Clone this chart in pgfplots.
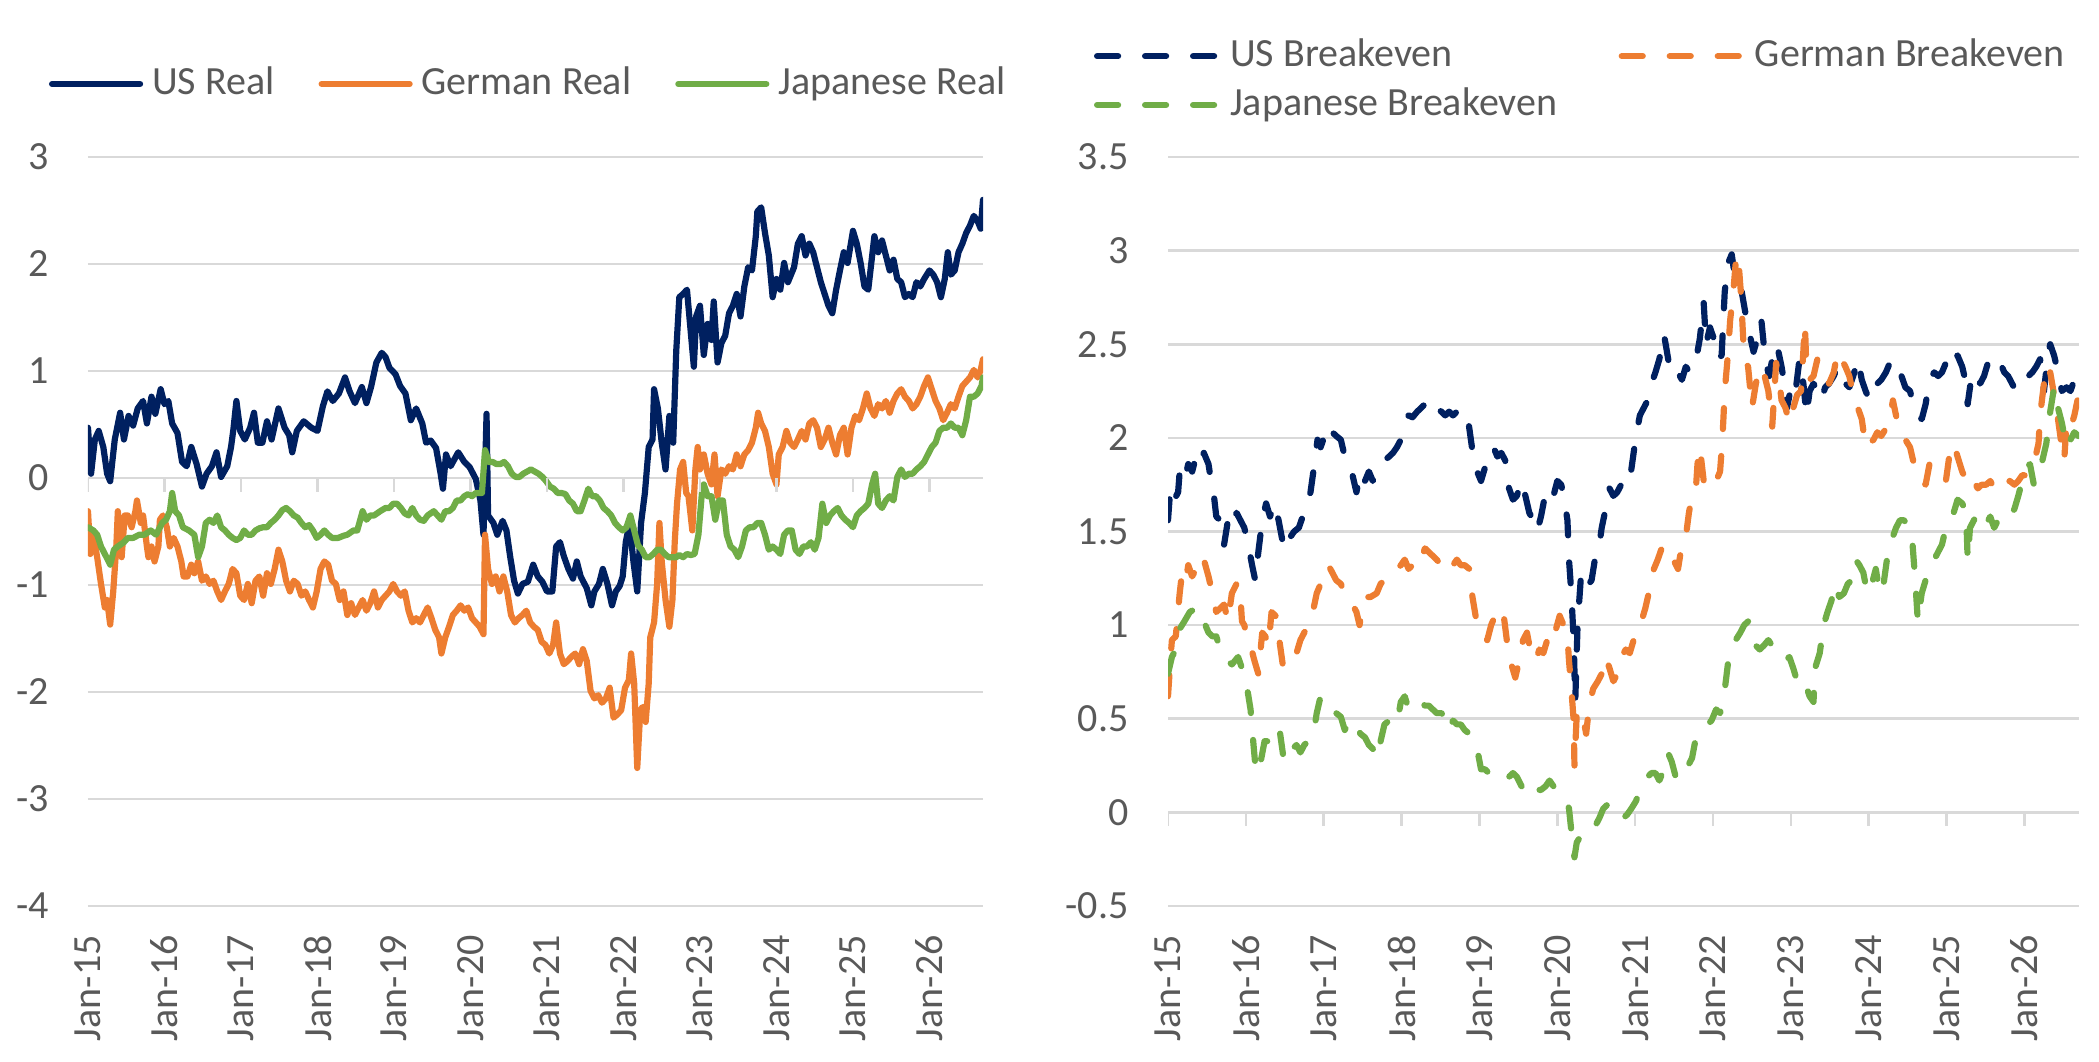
\documentclass[border=0pt]{standalone}
\usepackage{fontspec}
\setmainfont{Carlito}
\usepackage{pgfplots}
\pgfplotsset{compat=1.18}
\definecolor{usnavy}{HTML}{002060}
\definecolor{deorange}{HTML}{ED7D31}
\definecolor{jpgreen}{HTML}{70AD47}
\definecolor{gridgray}{HTML}{D9D9D9}
\definecolor{textgray}{HTML}{595959}
\pgfplotsset{
  chartbase/.style={
    scale only axis,
    anchor=south west,
    axis line style={draw=none},
    tick style={draw=none},
    ymajorgrids,
    grid style={gridgray, line width=1.3pt},
    xmin=2015, xmax=2026.70,
    xtick={2015,2016,2017,2018,2019,2020,2021,2022,2023,2024,2025,2026},
    xticklabels={Jan-15,Jan-16,Jan-17,Jan-18,Jan-19,Jan-20,Jan-21,Jan-22,Jan-23,Jan-24,Jan-25,Jan-26},
    xticklabel style={rotate=90, anchor=east, inner sep=0pt},
    yticklabel style={anchor=east, inner sep=0pt},
    xticklabel shift=14.5pt,
    yticklabel shift=19.5pt,
    tick label style={font=\fontsize{20}{24}\selectfont, text=textgray},
    legend cell align=left,
  },
  realline/.style={line width=3.1pt, line join=round, line cap=round},
  beline/.style={line width=3.1pt, line join=round, line cap=round, dash pattern=on 10.5pt off 13.5pt},
}
\begin{document}
\fontsize{20}{24}\selectfont
\begin{tikzpicture}
\path[use as bounding box] (0,0) rectangle (1049.5pt,530.5pt);
\begin{axis}[chartbase,
  at={(44pt,77.5pt)}, width=447.5pt, height=374.5pt,
  ymin=-4, ymax=3,
  ytick={-4,-3,-2,-1,0,1,2,3}, yticklabels={-4,-3,-2,-1,0,1,2,3},
  legend columns=3,
  legend style={at={(axis description cs:-0.04358,1.0975)}, anchor=west,
    draw=none, fill=none, inner sep=0pt, outer sep=0pt,
    font=\fontsize{20}{24}\selectfont, text=textgray, nodes={inner sep=0pt},
    /tikz/every odd column/.append style={column sep=4.5pt},
    /tikz/every even column/.append style={column sep=22pt}},
  legend image code/.code={\draw[#1] (0pt,0pt) -- (44pt,0pt);},
]
\addplot[realline, usnavy] coordinates {
(2015.00,0.47)(2015.04,0.04)(2015.09,0.36)(2015.14,0.44)(2015.20,0.29)(2015.25,0.04)(2015.29,-0.03)(2015.35,0.36)(2015.42,0.61)(2015.47,0.36)(2015.53,0.58)(2015.59,0.49)(2015.65,0.65)(2015.72,0.72)(2015.77,0.51)(2015.83,0.76)(2015.88,0.60)(2015.95,0.83)(2016.00,0.69)(2016.05,0.72)(2016.10,0.51)(2016.17,0.42)(2016.23,0.15)(2016.29,0.11)(2016.35,0.29)(2016.42,0.13)(2016.49,-0.08)(2016.55,0.04)(2016.62,0.11)(2016.68,0.24)(2016.74,0.01)(2016.82,0.11)(2016.87,0.29)(2016.90,0.45)(2016.94,0.72)(2016.99,0.44)(2017.05,0.36)(2017.12,0.47)(2017.17,0.61)(2017.22,0.33)(2017.28,0.33)(2017.34,0.53)(2017.40,0.36)(2017.49,0.65)(2017.57,0.47)(2017.63,0.40)(2017.67,0.24)(2017.73,0.44)(2017.82,0.53)(2017.92,0.47)(2018.00,0.44)(2018.07,0.67)(2018.13,0.81)(2018.20,0.72)(2018.28,0.79)(2018.36,0.94)(2018.42,0.81)(2018.49,0.70)(2018.58,0.85)(2018.64,0.70)(2018.70,0.85)(2018.77,1.08)(2018.84,1.17)(2018.89,1.13)(2018.94,1.03)(2019.02,0.97)(2019.08,0.86)(2019.15,0.79)(2019.22,0.54)(2019.29,0.65)(2019.37,0.51)(2019.42,0.33)(2019.48,0.35)(2019.55,0.28)(2019.61,0.04)(2019.64,-0.10)(2019.68,0.22)(2019.74,0.11)(2019.84,0.24)(2019.92,0.15)(2019.99,0.10)(2020.07,-0.01)(2020.13,-0.21)(2020.17,-0.53)(2020.21,0.60)(2020.23,-0.35)(2020.30,-0.42)(2020.35,-0.53)(2020.42,-0.40)(2020.47,-0.49)(2020.52,-0.74)(2020.57,-0.96)(2020.62,-1.08)(2020.68,-0.99)(2020.75,-0.97)(2020.82,-0.81)(2020.88,-0.92)(2020.94,-0.97)(2021.00,-1.06)(2021.07,-1.06)(2021.12,-0.64)(2021.17,-0.60)(2021.22,-0.73)(2021.28,-0.85)(2021.34,-0.94)(2021.39,-0.78)(2021.44,-0.92)(2021.52,-1.03)(2021.58,-1.19)(2021.62,-1.06)(2021.68,-0.99)(2021.73,-0.85)(2021.79,-0.99)(2021.85,-1.19)(2021.90,-1.06)(2021.95,-1.01)(2021.99,-0.92)(2022.03,-0.60)(2022.08,-0.42)(2022.13,-0.78)(2022.18,-1.06)(2022.23,-0.42)(2022.28,-0.14)(2022.33,0.29)(2022.38,0.36)(2022.40,0.83)(2022.45,0.65)(2022.50,0.33)(2022.55,0.08)(2022.60,0.58)(2022.65,0.33)(2022.69,1.19)(2022.73,1.69)(2022.78,1.72)(2022.83,1.76)(2022.88,1.36)(2022.92,1.04)(2022.95,1.51)(2023.00,1.61)(2023.05,1.15)(2023.10,1.44)(2023.15,1.29)(2023.18,1.65)(2023.23,1.08)(2023.28,1.26)(2023.33,1.33)(2023.38,1.54)(2023.43,1.61)(2023.48,1.72)(2023.53,1.51)(2023.58,1.79)(2023.63,1.97)(2023.68,1.94)(2023.73,2.26)(2023.75,2.49)(2023.80,2.53)(2023.85,2.29)(2023.90,2.08)(2023.95,1.69)(2024.00,1.86)(2024.05,1.76)(2024.10,2.01)(2024.15,1.83)(2024.23,1.97)(2024.28,2.19)(2024.33,2.26)(2024.38,2.08)(2024.43,2.19)(2024.48,2.11)(2024.53,1.97)(2024.58,1.83)(2024.63,1.72)(2024.68,1.61)(2024.73,1.54)(2024.78,1.76)(2024.83,1.94)(2024.88,2.11)(2024.93,2.01)(2025.00,2.31)(2025.05,2.19)(2025.10,2.01)(2025.15,1.79)(2025.20,1.76)(2025.28,2.26)(2025.33,2.11)(2025.38,2.22)(2025.43,2.08)(2025.48,1.94)(2025.53,2.04)(2025.58,1.86)(2025.63,1.83)(2025.68,1.69)(2025.73,1.72)(2025.78,1.69)(2025.83,1.83)(2025.88,1.79)(2025.93,1.86)(2026.00,1.94)(2026.05,1.90)(2026.10,1.83)(2026.15,1.69)(2026.20,1.86)(2026.24,2.11)(2026.28,1.90)(2026.33,1.94)(2026.38,2.11)(2026.43,2.19)(2026.48,2.29)(2026.53,2.36)(2026.58,2.45)(2026.63,2.40)(2026.67,2.33)(2026.69,2.51)(2026.70,2.60)
};
\addlegendentry{US Real}
\addplot[realline, deorange] coordinates {
(2015.00,-0.31)(2015.03,-0.71)(2015.07,-0.53)(2015.12,-0.74)(2015.17,-0.99)(2015.22,-1.21)(2015.25,-1.14)(2015.29,-1.37)(2015.33,-1.06)(2015.37,-0.64)(2015.39,-0.31)(2015.44,-0.74)(2015.48,-0.35)(2015.52,-0.35)(2015.57,-0.46)(2015.62,-0.31)(2015.64,-0.21)(2015.69,-0.42)(2015.72,-0.35)(2015.77,-0.64)(2015.79,-0.74)(2015.83,-0.64)(2015.87,-0.78)(2015.92,-0.64)(2015.94,-0.39)(2015.98,-0.35)(2016.03,-0.46)(2016.07,-0.64)(2016.12,-0.56)(2016.17,-0.64)(2016.22,-0.78)(2016.25,-0.92)(2016.30,-0.92)(2016.35,-0.81)(2016.39,-0.89)(2016.44,-0.78)(2016.49,-0.96)(2016.54,-0.92)(2016.59,-0.99)(2016.64,-0.96)(2016.69,-1.06)(2016.74,-1.14)(2016.79,-1.06)(2016.84,-0.99)(2016.89,-0.85)(2016.94,-0.89)(2016.99,-1.10)(2017.04,-1.14)(2017.09,-0.99)(2017.14,-1.17)(2017.19,-0.96)(2017.24,-0.92)(2017.29,-1.10)(2017.34,-0.89)(2017.39,-0.99)(2017.44,-0.85)(2017.49,-0.67)(2017.54,-0.78)(2017.59,-0.96)(2017.64,-1.06)(2017.69,-0.96)(2017.74,-0.99)(2017.79,-1.10)(2017.84,-1.06)(2017.89,-1.14)(2017.94,-1.21)(2017.99,-1.06)(2018.04,-0.85)(2018.09,-0.78)(2018.14,-0.81)(2018.19,-0.96)(2018.24,-0.99)(2018.29,-1.14)(2018.34,-1.06)(2018.39,-1.28)(2018.44,-1.17)(2018.49,-1.28)(2018.54,-1.21)(2018.59,-1.14)(2018.64,-1.24)(2018.69,-1.17)(2018.74,-1.06)(2018.79,-1.21)(2018.84,-1.14)(2018.89,-1.10)(2018.94,-1.06)(2018.99,-0.99)(2019.04,-1.06)(2019.09,-1.10)(2019.14,-1.06)(2019.19,-1.24)(2019.24,-1.35)(2019.29,-1.31)(2019.34,-1.35)(2019.39,-1.28)(2019.44,-1.21)(2019.49,-1.31)(2019.54,-1.42)(2019.59,-1.49)(2019.62,-1.64)(2019.67,-1.49)(2019.72,-1.39)(2019.77,-1.28)(2019.82,-1.24)(2019.87,-1.19)(2019.92,-1.24)(2019.97,-1.21)(2020.02,-1.31)(2020.07,-1.35)(2020.12,-1.39)(2020.17,-1.46)(2020.19,-0.53)(2020.23,-0.85)(2020.28,-0.99)(2020.33,-0.92)(2020.38,-1.06)(2020.43,-0.92)(2020.48,-1.06)(2020.53,-1.28)(2020.58,-1.35)(2020.63,-1.31)(2020.68,-1.28)(2020.73,-1.24)(2020.78,-1.35)(2020.83,-1.39)(2020.88,-1.42)(2020.93,-1.53)(2020.98,-1.56)(2021.03,-1.64)(2021.08,-1.56)(2021.12,-1.35)(2021.17,-1.64)(2021.22,-1.74)(2021.27,-1.71)(2021.32,-1.67)(2021.37,-1.64)(2021.42,-1.74)(2021.47,-1.60)(2021.52,-1.71)(2021.57,-1.99)(2021.62,-2.06)(2021.67,-2.03)(2021.72,-2.10)(2021.77,-2.06)(2021.82,-1.96)(2021.87,-2.24)(2021.92,-2.21)(2021.97,-2.17)(2022.02,-1.96)(2022.07,-1.89)(2022.10,-1.64)(2022.14,-1.92)(2022.18,-2.71)(2022.22,-2.17)(2022.25,-2.14)(2022.29,-2.28)(2022.33,-1.92)(2022.35,-1.49)(2022.40,-1.35)(2022.44,-0.99)(2022.47,-0.42)(2022.50,-0.78)(2022.55,-1.14)(2022.60,-1.39)(2022.64,-1.14)(2022.67,-0.60)(2022.70,-0.24)(2022.74,0.08)(2022.78,0.15)(2022.82,-0.14)(2022.85,-0.17)(2022.90,-0.49)(2022.94,0.08)(2022.97,0.29)(2023.00,0.08)(2023.05,0.22)(2023.10,0.04)(2023.15,-0.06)(2023.19,0.22)(2023.23,-0.17)(2023.28,0.08)(2023.33,0.04)(2023.38,0.11)(2023.43,0.08)(2023.48,0.22)(2023.53,0.11)(2023.58,0.22)(2023.63,0.26)(2023.68,0.33)(2023.73,0.47)(2023.76,0.61)(2023.80,0.51)(2023.85,0.44)(2023.90,0.29)(2023.95,0.04)(2024.00,-0.06)(2024.03,0.22)(2024.08,0.29)(2024.13,0.44)(2024.18,0.33)(2024.23,0.29)(2024.28,0.36)(2024.33,0.44)(2024.38,0.36)(2024.43,0.51)(2024.48,0.54)(2024.53,0.47)(2024.58,0.29)(2024.63,0.36)(2024.68,0.47)(2024.73,0.33)(2024.78,0.22)(2024.83,0.40)(2024.88,0.47)(2024.93,0.22)(2024.98,0.47)(2025.03,0.58)(2025.08,0.54)(2025.13,0.65)(2025.18,0.79)(2025.23,0.65)(2025.28,0.58)(2025.33,0.69)(2025.38,0.65)(2025.43,0.72)(2025.48,0.61)(2025.53,0.72)(2025.58,0.79)(2025.63,0.83)(2025.68,0.76)(2025.73,0.72)(2025.78,0.65)(2025.83,0.69)(2025.88,0.76)(2025.93,0.86)(2025.98,0.94)(2026.03,0.83)(2026.08,0.72)(2026.13,0.65)(2026.18,0.54)(2026.23,0.61)(2026.28,0.69)(2026.33,0.65)(2026.38,0.76)(2026.43,0.86)(2026.48,0.90)(2026.53,0.94)(2026.58,1.01)(2026.63,0.94)(2026.67,1.01)(2026.70,1.11)
};
\addlegendentry{German Real}
\addplot[realline, jpgreen] coordinates {
(2015.00,-0.46)(2015.07,-0.49)(2015.12,-0.53)(2015.17,-0.64)(2015.22,-0.71)(2015.29,-0.81)(2015.34,-0.67)(2015.39,-0.64)(2015.47,-0.60)(2015.52,-0.56)(2015.59,-0.56)(2015.67,-0.53)(2015.74,-0.53)(2015.82,-0.49)(2015.89,-0.53)(2015.97,-0.42)(2016.02,-0.39)(2016.07,-0.31)(2016.10,-0.14)(2016.14,-0.31)(2016.19,-0.35)(2016.24,-0.46)(2016.32,-0.49)(2016.39,-0.53)(2016.44,-0.74)(2016.49,-0.64)(2016.54,-0.42)(2016.59,-0.39)(2016.64,-0.42)(2016.69,-0.35)(2016.74,-0.46)(2016.79,-0.49)(2016.84,-0.53)(2016.89,-0.56)(2016.94,-0.58)(2016.99,-0.56)(2017.04,-0.49)(2017.09,-0.53)(2017.14,-0.53)(2017.19,-0.49)(2017.24,-0.47)(2017.29,-0.46)(2017.34,-0.46)(2017.39,-0.42)(2017.44,-0.39)(2017.49,-0.35)(2017.54,-0.30)(2017.59,-0.28)(2017.64,-0.31)(2017.69,-0.35)(2017.74,-0.37)(2017.79,-0.42)(2017.84,-0.46)(2017.89,-0.44)(2017.94,-0.49)(2017.99,-0.56)(2018.04,-0.53)(2018.09,-0.49)(2018.14,-0.53)(2018.19,-0.56)(2018.27,-0.56)(2018.34,-0.54)(2018.39,-0.53)(2018.47,-0.49)(2018.52,-0.49)(2018.59,-0.31)(2018.64,-0.39)(2018.69,-0.35)(2018.74,-0.35)(2018.82,-0.31)(2018.89,-0.28)(2018.94,-0.28)(2018.99,-0.24)(2019.04,-0.24)(2019.09,-0.28)(2019.14,-0.33)(2019.19,-0.35)(2019.24,-0.28)(2019.29,-0.35)(2019.34,-0.39)(2019.39,-0.40)(2019.44,-0.35)(2019.52,-0.31)(2019.57,-0.35)(2019.62,-0.39)(2019.67,-0.31)(2019.72,-0.31)(2019.77,-0.28)(2019.82,-0.21)(2019.87,-0.21)(2019.92,-0.17)(2019.97,-0.15)(2020.02,-0.17)(2020.07,-0.14)(2020.12,-0.14)(2020.15,-0.14)(2020.19,0.26)(2020.24,0.15)(2020.29,0.15)(2020.34,0.13)(2020.39,0.13)(2020.44,0.15)(2020.49,0.11)(2020.54,0.04)(2020.59,0.01)(2020.64,0.01)(2020.69,0.04)(2020.74,0.06)(2020.79,0.08)(2020.84,0.06)(2020.89,0.04)(2020.94,0.01)(2020.99,-0.03)(2021.04,-0.08)(2021.09,-0.10)(2021.14,-0.14)(2021.19,-0.14)(2021.24,-0.15)(2021.29,-0.21)(2021.34,-0.24)(2021.39,-0.31)(2021.44,-0.31)(2021.49,-0.21)(2021.54,-0.10)(2021.59,-0.17)(2021.64,-0.17)(2021.69,-0.21)(2021.74,-0.28)(2021.79,-0.31)(2021.84,-0.35)(2021.89,-0.42)(2021.94,-0.46)(2021.99,-0.49)(2022.04,-0.46)(2022.09,-0.35)(2022.14,-0.49)(2022.19,-0.63)(2022.24,-0.67)(2022.29,-0.74)(2022.34,-0.74)(2022.39,-0.71)(2022.44,-0.67)(2022.49,-0.67)(2022.54,-0.71)(2022.59,-0.74)(2022.64,-0.74)(2022.69,-0.74)(2022.73,-0.72)(2022.78,-0.74)(2022.83,-0.71)(2022.88,-0.72)(2022.93,-0.71)(2022.98,-0.53)(2023.03,-0.10)(2023.05,-0.06)(2023.10,-0.17)(2023.15,-0.17)(2023.20,-0.39)(2023.25,-0.21)(2023.30,-0.21)(2023.35,-0.53)(2023.40,-0.64)(2023.45,-0.67)(2023.50,-0.74)(2023.55,-0.64)(2023.60,-0.49)(2023.65,-0.46)(2023.70,-0.46)(2023.75,-0.42)(2023.80,-0.42)(2023.85,-0.53)(2023.90,-0.67)(2023.95,-0.64)(2024.00,-0.67)(2024.05,-0.71)(2024.10,-0.53)(2024.15,-0.49)(2024.20,-0.49)(2024.25,-0.67)(2024.30,-0.71)(2024.35,-0.64)(2024.40,-0.64)(2024.45,-0.60)(2024.50,-0.67)(2024.55,-0.56)(2024.60,-0.24)(2024.65,-0.42)(2024.70,-0.35)(2024.75,-0.31)(2024.80,-0.28)(2024.85,-0.35)(2024.90,-0.39)(2024.95,-0.42)(2025.00,-0.46)(2025.05,-0.35)(2025.10,-0.31)(2025.15,-0.28)(2025.20,-0.24)(2025.25,-0.06)(2025.29,0.04)(2025.33,-0.24)(2025.38,-0.28)(2025.43,-0.21)(2025.48,-0.17)(2025.53,-0.21)(2025.58,0.01)(2025.63,0.08)(2025.68,0.01)(2025.73,0.04)(2025.78,0.04)(2025.83,0.08)(2025.88,0.11)(2025.93,0.15)(2025.98,0.22)(2026.03,0.29)(2026.08,0.33)(2026.13,0.44)(2026.18,0.47)(2026.23,0.47)(2026.28,0.51)(2026.33,0.47)(2026.38,0.47)(2026.43,0.40)(2026.48,0.54)(2026.53,0.76)(2026.58,0.76)(2026.63,0.79)(2026.68,0.86)(2026.70,0.94)
};
\addlegendentry{Japanese Real}
\pgfplotsinvokeforeach{2015,2016,2017,2018,2019,2020,2021,2022,2023,2024,2025,2026}{
  \draw[gridgray, line width=1.3pt] (axis cs:#1,0) -- ([yshift=-7pt]axis cs:#1,0);
}
\end{axis}
\begin{axis}[chartbase,
  at={(584pt,77.5pt)}, width=455.5pt, height=374.5pt,
  ymin=-0.5, ymax=3.5,
  ytick={-0.5,0,0.5,1,1.5,2,2.5,3,3.5}, yticklabels={-0.5,0,0.5,1,1.5,2,2.5,3,3.5},
  legend columns=2,
  legend style={at={(axis description cs:-0.08123,1.10214)}, anchor=west,
    draw=none, fill=none, inner sep=0pt, outer sep=0pt, row sep=7.5pt,
    font=\fontsize{20}{24}\selectfont, text=textgray, nodes={inner sep=0pt},
    /tikz/every odd column/.append style={column sep=6.5pt},
    /tikz/every even column/.append style={column sep=30.7pt}},
  legend image code/.code={\draw[#1] (0pt,0pt) -- (58.5pt,0pt);},
]
\addplot[beline, usnavy] coordinates {
(2015.00,1.56)(2015.03,1.73)(2015.08,1.67)(2015.13,1.71)(2015.15,1.82)(2015.21,1.77)(2015.26,1.86)(2015.31,1.82)(2015.36,1.90)(2015.41,1.86)(2015.46,1.92)(2015.52,1.86)(2015.56,1.75)(2015.59,1.69)(2015.62,1.58)(2015.67,1.56)(2015.72,1.43)(2015.77,1.56)(2015.82,1.52)(2015.88,1.60)(2015.93,1.56)(2015.98,1.52)(2016.03,1.43)(2016.08,1.32)(2016.12,1.24)(2016.16,1.39)(2016.21,1.56)(2016.26,1.65)(2016.31,1.58)(2016.37,1.65)(2016.42,1.56)(2016.47,1.45)(2016.52,1.52)(2016.57,1.47)(2016.62,1.50)(2016.68,1.52)(2016.73,1.58)(2016.78,1.65)(2016.83,1.71)(2016.88,1.86)(2016.92,1.99)(2016.96,1.95)(2017.01,2.01)(2017.06,2.07)(2017.11,2.03)(2017.16,2.01)(2017.22,1.99)(2017.27,1.90)(2017.32,1.86)(2017.37,1.80)(2017.42,1.71)(2017.47,1.82)(2017.53,1.77)(2017.58,1.82)(2017.63,1.77)(2017.68,1.82)(2017.73,1.86)(2017.78,1.88)(2017.84,1.90)(2017.89,1.92)(2017.94,1.95)(2017.99,1.99)(2018.04,2.07)(2018.09,2.12)(2018.14,2.11)(2018.20,2.14)(2018.25,2.16)(2018.30,2.18)(2018.35,2.19)(2018.40,2.14)(2018.45,2.16)(2018.51,2.14)(2018.56,2.12)(2018.61,2.14)(2018.66,2.12)(2018.71,2.14)(2018.76,2.16)(2018.81,2.12)(2018.86,2.08)(2018.89,1.99)(2018.92,1.90)(2018.97,1.82)(2019.02,1.77)(2019.07,1.84)(2019.12,1.88)(2019.18,1.95)(2019.23,1.90)(2019.28,1.92)(2019.33,1.88)(2019.38,1.73)(2019.43,1.67)(2019.48,1.69)(2019.54,1.77)(2019.59,1.69)(2019.64,1.60)(2019.69,1.56)(2019.74,1.50)(2019.79,1.58)(2019.85,1.71)(2019.90,1.73)(2019.95,1.69)(2020.00,1.77)(2020.05,1.75)(2020.09,1.67)(2020.13,1.56)(2020.15,1.35)(2020.18,1.17)(2020.21,0.92)(2020.23,0.59)(2020.26,1.00)(2020.30,1.24)(2020.34,1.17)(2020.39,1.21)(2020.44,1.24)(2020.49,1.37)(2020.54,1.43)(2020.57,1.52)(2020.62,1.62)(2020.67,1.73)(2020.72,1.69)(2020.77,1.71)(2020.82,1.75)(2020.88,1.73)(2020.93,1.77)(2020.97,1.89)(2021.01,2.01)(2021.06,2.12)(2021.11,2.16)(2021.16,2.20)(2021.21,2.29)(2021.26,2.35)(2021.31,2.42)(2021.37,2.55)(2021.40,2.48)(2021.44,2.38)(2021.49,2.33)(2021.55,2.35)(2021.60,2.31)(2021.65,2.38)(2021.70,2.35)(2021.75,2.40)(2021.80,2.46)(2021.83,2.53)(2021.88,2.72)(2021.91,2.50)(2021.96,2.59)(2022.01,2.53)(2022.06,2.42)(2022.11,2.44)(2022.15,2.78)(2022.19,2.93)(2022.24,2.98)(2022.27,2.89)(2022.32,2.80)(2022.36,2.80)(2022.41,2.68)(2022.46,2.57)(2022.52,2.46)(2022.57,2.53)(2022.62,2.63)(2022.67,2.42)(2022.72,2.33)(2022.77,2.44)(2022.82,2.50)(2022.88,2.38)(2022.93,2.25)(2022.95,2.16)(2023.01,2.29)(2023.06,2.25)(2023.11,2.42)(2023.16,2.29)(2023.20,2.12)(2023.24,2.25)(2023.29,2.29)(2023.34,2.25)(2023.39,2.20)(2023.44,2.27)(2023.49,2.29)(2023.55,2.33)(2023.60,2.38)(2023.65,2.35)(2023.70,2.29)(2023.75,2.27)(2023.80,2.33)(2023.86,2.42)(2023.91,2.31)(2023.96,2.25)(2024.01,2.20)(2024.06,2.27)(2024.11,2.29)(2024.16,2.31)(2024.22,2.35)(2024.27,2.40)(2024.32,2.42)(2024.37,2.38)(2024.42,2.33)(2024.47,2.27)(2024.53,2.25)(2024.58,2.16)(2024.63,2.12)(2024.68,2.10)(2024.73,2.18)(2024.78,2.31)(2024.84,2.35)(2024.89,2.33)(2024.94,2.35)(2024.99,2.40)(2025.04,2.46)(2025.09,2.42)(2025.14,2.44)(2025.20,2.38)(2025.25,2.29)(2025.27,2.18)(2025.32,2.33)(2025.38,2.35)(2025.43,2.29)(2025.48,2.33)(2025.53,2.40)(2025.58,2.42)(2025.63,2.44)(2025.69,2.40)(2025.74,2.35)(2025.79,2.33)(2025.84,2.29)(2025.89,2.25)(2025.94,2.27)(2025.99,2.31)(2026.05,2.33)(2026.10,2.35)(2026.15,2.38)(2026.20,2.42)(2026.25,2.25)(2026.30,2.44)(2026.33,2.50)(2026.38,2.44)(2026.43,2.35)(2026.48,2.25)(2026.54,2.27)(2026.59,2.25)(2026.64,2.31)(2026.69,2.35)
};
\addlegendentry{US Breakeven}
\addplot[beline, deorange] coordinates {
(2015.00,0.62)(2015.03,0.81)(2015.05,0.92)(2015.10,0.94)(2015.15,1.17)(2015.18,1.28)(2015.23,1.24)(2015.26,1.32)(2015.31,1.26)(2015.36,1.30)(2015.41,1.28)(2015.46,1.35)(2015.52,1.26)(2015.57,1.17)(2015.62,1.07)(2015.67,1.09)(2015.72,1.11)(2015.77,1.02)(2015.82,1.17)(2015.88,1.22)(2015.92,1.22)(2015.95,1.02)(2015.98,1.00)(2016.01,0.94)(2016.06,0.89)(2016.11,0.81)(2016.16,0.74)(2016.21,0.96)(2016.25,0.94)(2016.29,0.89)(2016.33,1.07)(2016.38,1.05)(2016.43,0.92)(2016.48,0.77)(2016.54,0.79)(2016.59,0.83)(2016.65,0.85)(2016.70,0.92)(2016.75,0.96)(2016.80,1.00)(2016.86,1.07)(2016.91,1.17)(2016.96,1.22)(2017.01,1.28)(2017.06,1.32)(2017.11,1.28)(2017.16,1.24)(2017.22,1.22)(2017.27,1.17)(2017.32,1.15)(2017.37,1.11)(2017.42,1.07)(2017.46,1.00)(2017.50,1.11)(2017.55,1.15)(2017.60,1.15)(2017.68,1.17)(2017.73,1.22)(2017.78,1.24)(2017.84,1.26)(2017.89,1.26)(2017.94,1.30)(2017.99,1.32)(2018.04,1.35)(2018.09,1.30)(2018.14,1.32)(2018.20,1.30)(2018.25,1.35)(2018.30,1.41)(2018.35,1.39)(2018.40,1.37)(2018.45,1.35)(2018.51,1.32)(2018.56,1.28)(2018.61,1.30)(2018.66,1.32)(2018.71,1.35)(2018.76,1.32)(2018.81,1.32)(2018.87,1.30)(2018.91,1.15)(2018.95,1.05)(2018.99,0.98)(2019.05,0.96)(2019.10,0.92)(2019.15,1.00)(2019.20,1.05)(2019.25,1.07)(2019.30,1.09)(2019.36,0.89)(2019.41,0.79)(2019.46,0.72)(2019.51,0.81)(2019.56,0.92)(2019.61,0.96)(2019.66,0.85)(2019.72,0.81)(2019.77,0.87)(2019.82,0.85)(2019.87,0.92)(2019.92,0.89)(2019.97,0.96)(2020.03,1.05)(2020.08,1.00)(2020.13,0.94)(2020.15,0.81)(2020.18,0.66)(2020.21,0.49)(2020.22,0.25)(2020.25,0.53)(2020.28,0.55)(2020.34,0.49)(2020.37,0.42)(2020.41,0.57)(2020.46,0.66)(2020.52,0.70)(2020.57,0.74)(2020.62,0.83)(2020.67,0.77)(2020.72,0.70)(2020.77,0.74)(2020.82,0.83)(2020.88,0.87)(2020.93,0.85)(2020.98,0.92)(2021.03,0.98)(2021.08,1.02)(2021.13,1.09)(2021.19,1.20)(2021.24,1.30)(2021.29,1.35)(2021.34,1.41)(2021.39,1.43)(2021.44,1.39)(2021.49,1.35)(2021.55,1.30)(2021.60,1.43)(2021.65,1.47)(2021.69,1.60)(2021.73,1.69)(2021.78,1.73)(2021.80,1.86)(2021.83,1.95)(2021.88,1.77)(2021.93,1.73)(2021.98,1.77)(2022.04,1.77)(2022.09,1.82)(2022.12,1.99)(2022.15,2.25)(2022.19,2.44)(2022.22,2.63)(2022.26,2.78)(2022.29,2.93)(2022.32,2.98)(2022.36,2.76)(2022.40,2.42)(2022.45,2.38)(2022.50,2.16)(2022.55,2.29)(2022.60,2.38)(2022.65,2.35)(2022.71,2.25)(2022.76,2.06)(2022.81,2.40)(2022.86,2.27)(2022.88,2.20)(2022.93,2.16)(2022.98,2.08)(2023.03,2.16)(2023.08,2.23)(2023.13,2.25)(2023.18,2.61)(2023.20,2.35)(2023.24,2.31)(2023.29,2.33)(2023.34,2.42)(2023.39,2.40)(2023.44,2.35)(2023.49,2.29)(2023.55,2.35)(2023.60,2.46)(2023.65,2.42)(2023.70,2.38)(2023.75,2.33)(2023.80,2.23)(2023.86,2.16)(2023.91,2.10)(2023.96,1.95)(2024.01,1.97)(2024.06,1.99)(2024.11,2.03)(2024.16,2.01)(2024.22,2.05)(2024.27,2.10)(2024.31,2.20)(2024.37,2.08)(2024.42,2.03)(2024.47,1.99)(2024.53,1.95)(2024.58,1.86)(2024.63,1.80)(2024.68,1.77)(2024.73,1.75)(2024.78,1.86)(2024.84,1.84)(2024.89,1.80)(2024.94,1.80)(2024.99,1.77)(2025.04,1.92)(2025.09,1.97)(2025.14,1.90)(2025.20,1.82)(2025.25,1.77)(2025.30,1.80)(2025.35,1.77)(2025.40,1.73)(2025.45,1.75)(2025.51,1.75)(2025.56,1.77)(2025.61,1.73)(2025.66,1.75)(2025.71,1.73)(2025.76,1.75)(2025.81,1.77)(2025.87,1.75)(2025.92,1.77)(2025.97,1.80)(2026.02,1.80)(2026.07,1.84)(2026.12,1.86)(2026.18,1.97)(2026.20,2.12)(2026.25,2.29)(2026.30,2.25)(2026.33,2.35)(2026.38,2.23)(2026.43,2.10)(2026.48,1.95)(2026.51,1.88)(2026.54,2.08)(2026.59,2.05)(2026.64,2.12)(2026.68,2.20)
};
\addlegendentry{German Breakeven}
\addplot[beline, jpgreen] coordinates {
(2015.00,0.74)(2015.05,0.83)(2015.10,0.87)(2015.15,0.98)(2015.21,1.02)(2015.28,1.07)(2015.36,1.09)(2015.41,1.09)(2015.46,1.02)(2015.52,0.96)(2015.57,0.94)(2015.62,0.94)(2015.67,0.87)(2015.72,0.83)(2015.77,0.81)(2015.82,0.79)(2015.90,0.83)(2015.95,0.77)(2016.01,0.68)(2016.06,0.55)(2016.09,0.40)(2016.13,0.21)(2016.19,0.27)(2016.24,0.38)(2016.29,0.38)(2016.34,0.36)(2016.39,0.34)(2016.44,0.42)(2016.49,0.27)(2016.55,0.29)(2016.60,0.34)(2016.65,0.36)(2016.70,0.32)(2016.75,0.36)(2016.80,0.38)(2016.86,0.40)(2016.91,0.53)(2016.96,0.62)(2017.01,0.59)(2017.06,0.57)(2017.11,0.55)(2017.16,0.53)(2017.22,0.51)(2017.27,0.44)(2017.32,0.49)(2017.37,0.49)(2017.42,0.47)(2017.47,0.42)(2017.53,0.40)(2017.58,0.36)(2017.63,0.34)(2017.68,0.29)(2017.73,0.38)(2017.78,0.47)(2017.84,0.49)(2017.89,0.49)(2017.94,0.47)(2017.99,0.59)(2018.04,0.62)(2018.09,0.55)(2018.14,0.55)(2018.20,0.57)(2018.25,0.59)(2018.30,0.57)(2018.35,0.57)(2018.40,0.55)(2018.45,0.53)(2018.51,0.53)(2018.56,0.51)(2018.61,0.44)(2018.66,0.49)(2018.71,0.47)(2018.76,0.47)(2018.81,0.44)(2018.87,0.42)(2018.92,0.36)(2018.97,0.34)(2019.02,0.23)(2019.07,0.23)(2019.12,0.21)(2019.18,0.23)(2019.23,0.21)(2019.28,0.21)(2019.33,0.21)(2019.38,0.19)(2019.43,0.21)(2019.48,0.19)(2019.54,0.14)(2019.59,0.10)(2019.64,0.08)(2019.69,0.10)(2019.74,0.12)(2019.79,0.12)(2019.85,0.14)(2019.90,0.17)(2019.95,0.14)(2020.00,0.12)(2020.05,0.10)(2020.10,0.08)(2020.15,0.02)(2020.20,-0.18)(2020.22,-0.24)(2020.25,-0.16)(2020.28,-0.14)(2020.34,-0.14)(2020.39,-0.11)(2020.44,-0.11)(2020.49,-0.07)(2020.54,-0.03)(2020.59,0.02)(2020.64,0.04)(2020.70,0.02)(2020.75,-0.03)(2020.80,-0.03)(2020.85,-0.03)(2020.90,-0.01)(2020.95,0.02)(2021.01,0.06)(2021.06,0.12)(2021.11,0.17)(2021.16,0.19)(2021.21,0.21)(2021.26,0.21)(2021.31,0.17)(2021.37,0.23)(2021.42,0.32)(2021.47,0.27)(2021.52,0.19)(2021.57,0.17)(2021.62,0.21)(2021.68,0.25)(2021.73,0.29)(2021.78,0.40)(2021.83,0.42)(2021.88,0.44)(2021.93,0.47)(2021.98,0.49)(2022.04,0.55)(2022.09,0.53)(2022.14,0.62)(2022.19,0.79)(2022.24,0.85)(2022.29,0.92)(2022.35,0.96)(2022.40,1.00)(2022.45,1.02)(2022.50,0.92)(2022.55,0.89)(2022.60,0.87)(2022.65,0.89)(2022.71,0.92)(2022.76,0.89)(2022.81,0.87)(2022.86,0.85)(2022.93,0.81)(2022.98,0.83)(2023.03,0.77)(2023.08,0.70)(2023.13,0.72)(2023.19,0.68)(2023.24,0.62)(2023.29,0.59)(2023.31,0.77)(2023.37,0.85)(2023.42,1.00)(2023.47,1.07)(2023.52,1.13)(2023.57,1.22)(2023.62,1.15)(2023.68,1.17)(2023.73,1.22)(2023.78,1.24)(2023.83,1.35)(2023.88,1.32)(2023.93,1.28)(2023.98,1.17)(2024.04,1.22)(2024.09,1.30)(2024.14,1.17)(2024.19,1.22)(2024.24,1.37)(2024.29,1.45)(2024.35,1.52)(2024.40,1.56)(2024.45,1.56)(2024.50,1.54)(2024.55,1.50)(2024.60,1.22)(2024.63,1.02)(2024.68,1.17)(2024.73,1.24)(2024.78,1.30)(2024.84,1.35)(2024.89,1.39)(2024.94,1.43)(2024.99,1.52)(2025.04,1.56)(2025.09,1.60)(2025.14,1.67)(2025.20,1.65)(2025.25,1.60)(2025.27,1.35)(2025.30,1.52)(2025.35,1.56)(2025.40,1.60)(2025.45,1.56)(2025.51,1.54)(2025.56,1.58)(2025.61,1.52)(2025.66,1.56)(2025.71,1.58)(2025.76,1.56)(2025.81,1.58)(2025.87,1.62)(2025.92,1.69)(2025.97,1.77)(2026.02,1.84)(2026.07,1.86)(2026.12,1.75)(2026.18,1.82)(2026.23,1.88)(2026.28,1.97)(2026.33,2.14)(2026.38,2.27)(2026.43,2.16)(2026.48,2.08)(2026.54,1.95)(2026.59,1.99)(2026.64,2.03)(2026.69,2.01)
};
\addlegendentry{Japanese Breakeven}
\pgfplotsinvokeforeach{2015,2016,2017,2018,2019,2020,2021,2022,2023,2024,2025,2026}{
  \draw[gridgray, line width=1.3pt] (axis cs:#1,0) -- ([yshift=-7pt]axis cs:#1,0);
}
\end{axis}
\end{tikzpicture}
\end{document}
